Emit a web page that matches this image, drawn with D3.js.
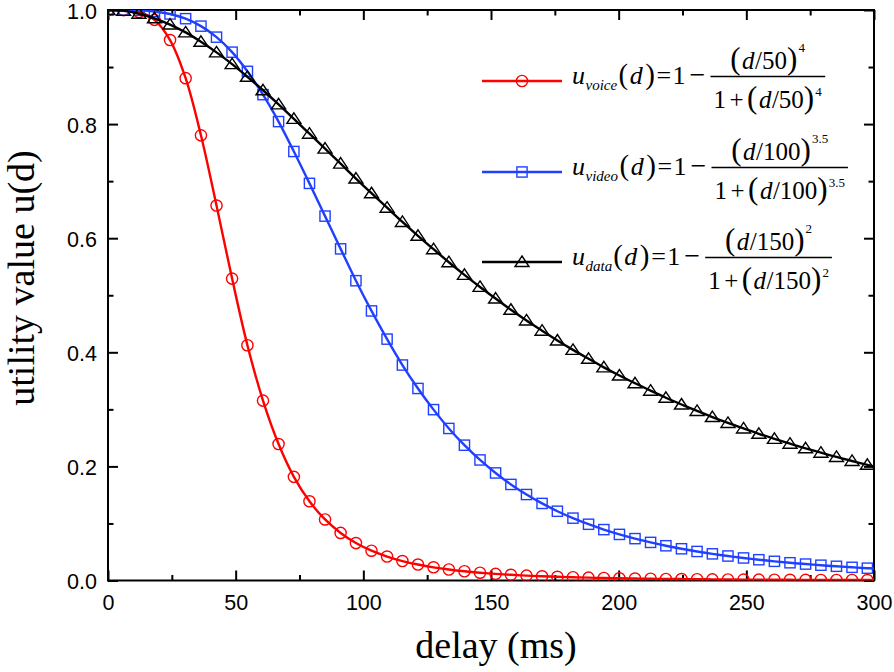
<!DOCTYPE html>
<html><head><meta charset="utf-8">
<script src="https://cdn.jsdelivr.net/npm/d3@7"></script>
<style>body{margin:0;background:#fff}</style>
</head><body><svg id="c" width="894" height="672"></svg>
<script>
// ---- data ----
const delays = [0,6.1,12.1,18.2,24.3,30.4,36.4,42.5,48.6,54.6,60.7,66.8,72.8,78.9,85.0,91.1,97.1,103.2,109.3,115.3,121.4,127.5,133.5,139.6,145.7,151.8,157.8,163.9,170.0,176.0,182.1,188.2,194.2,200.3,206.4,212.5,218.5,224.6,230.7,236.7,242.8,248.9,254.9,261.0,267.1,273.2,279.2,285.3,291.4,297.4];
const voice = [1.0000,0.9998,0.9965,0.9827,0.9473,0.8805,0.7803,0.6572,0.5292,0.4124,0.3153,0.2392,0.1817,0.1388,0.1070,0.0834,0.0656,0.0522,0.0420,0.0341,0.0280,0.0231,0.0193,0.0162,0.0137,0.0116,0.0100,0.0086,0.0074,0.0065,0.0057,0.0050,0.0044,0.0039,0.0034,0.0031,0.0027,0.0025,0.0022,0.0020,0.0018,0.0016,0.0015,0.0013,0.0012,0.0011,0.0010,0.0009,0.0009,0.0008];
const video = [1.0000,0.9999,0.9994,0.9974,0.9930,0.9848,0.9717,0.9524,0.9261,0.8924,0.8516,0.8044,0.7520,0.6961,0.6387,0.5813,0.5255,0.4725,0.4231,0.3777,0.3366,0.2995,0.2665,0.2372,0.2113,0.1885,0.1684,0.1507,0.1351,0.1214,0.1093,0.0986,0.0892,0.0808,0.0734,0.0668,0.0609,0.0556,0.0509,0.0467,0.0429,0.0395,0.0364,0.0336,0.0311,0.0288,0.0268,0.0249,0.0231,0.0216];
const dataSvc = [1.0000,0.9984,0.9935,0.9855,0.9745,0.9607,0.9443,0.9257,0.9051,0.8829,0.8593,0.8346,0.8092,0.7832,0.7570,0.7307,0.7046,0.6788,0.6534,0.6285,0.6042,0.5807,0.5579,0.5358,0.5146,0.4942,0.4746,0.4558,0.4379,0.4207,0.4042,0.3886,0.3736,0.3593,0.3457,0.3327,0.3203,0.3085,0.2972,0.2865,0.2762,0.2665,0.2572,0.2483,0.2398,0.2317,0.2240,0.2166,0.2095,0.2028];
const lineEndDelay = 300;
const lineEndValues = [0.0008, 0.0209, 0.2000];
const seriesNames = ["voice", "video", "data"];
const scaleDivisors = ["50", "100", "150"];
const exponents = ["4", "3.5", "2"];
const xTicks = [0, 50, 100, 150, 200, 250, 300];
const xMinor = [25, 75, 125, 175, 225, 275];
const yTicks = [0, 0.2, 0.4, 0.6, 0.8, 1.0];
const yMinor = [0.1, 0.3, 0.5, 0.7, 0.9];
const xTitle = "delay (ms)";
const yTitle = "utility value u(d)";

// ---- drawing ----
const colors = ["#ff0000", "#2040ff", "#000000"];
const seriesValues = [voice, video, dataSvc];
const svg = d3.select("#c");
const L = 108, R = 874, T = 10, B = 580.5;
const x = d3.scaleLinear([0, 300], [L, R]);
const y = d3.scaleLinear([0, 1], [B, T]);

svg.append("defs").append("clipPath").attr("id", "clip")
  .append("rect").attr("x", L).attr("y", T).attr("width", R - L).attr("height", B - T);

const tickFont = "Liberation Sans, Arial, sans-serif";
function styleAxis(g, labels) {
  g.select(".domain").remove();
  g.selectAll(".tick line").attr("stroke", "#000").attr("stroke-width", 2);
  g.selectAll(".tick text").attr("font-family", tickFont).attr("font-size", 21.5).attr("fill", "#000");
  if (!labels) g.selectAll(".tick text").remove();
}
// bottom
svg.append("g").attr("transform", `translate(0,${B})`)
  .call(d3.axisBottom(x).tickValues(xTicks).tickSize(-10).tickPadding(14).tickFormat(d3.format("d")))
  .call(g => styleAxis(g, true));
svg.append("g").attr("transform", `translate(0,${B})`)
  .call(d3.axisBottom(x).tickValues(xMinor).tickSize(-5.5)).call(g => styleAxis(g, false));
// top
svg.append("g").attr("transform", `translate(0,${T})`)
  .call(d3.axisTop(x).tickValues(xTicks).tickSize(-10)).call(g => styleAxis(g, false));
svg.append("g").attr("transform", `translate(0,${T})`)
  .call(d3.axisTop(x).tickValues(xMinor).tickSize(-5.5)).call(g => styleAxis(g, false));
// left
svg.append("g").attr("transform", `translate(${L},0)`)
  .call(d3.axisLeft(y).tickValues(yTicks).tickSize(-10).tickPadding(11).tickFormat(d3.format(".1f")))
  .call(g => styleAxis(g, true))
  .call(g => g.selectAll(".tick text").attr("dy", "0.38em"));
svg.append("g").attr("transform", `translate(${L},0)`)
  .call(d3.axisLeft(y).tickValues(yMinor).tickSize(-5.5)).call(g => styleAxis(g, false));
// right
svg.append("g").attr("transform", `translate(${R},0)`)
  .call(d3.axisRight(y).tickValues(yTicks).tickSize(-10)).call(g => styleAxis(g, false));
svg.append("g").attr("transform", `translate(${R},0)`)
  .call(d3.axisRight(y).tickValues(yMinor).tickSize(-5.5)).call(g => styleAxis(g, false));

// frame
svg.append("rect").attr("x", L).attr("y", T).attr("width", R - L).attr("height", B - T)
  .attr("fill", "none").attr("stroke", "#000").attr("stroke-width", 2);

// markers
const triPath = "M0,-6L7,4.5L-7,4.5Z";
function drawMarker(g, type, color) {
  if (type === 0) g.append("circle").attr("r", 5.6);
  else if (type === 1) g.append("rect").attr("x", -5.1).attr("y", -5.1).attr("width", 10.2).attr("height", 10.2);
  else g.append("path").attr("d", triPath);
  g.selectAll("*").attr("fill", "none").attr("stroke", color).attr("stroke-width", 1.4);
}

const plot = svg.append("g").attr("clip-path", "url(#clip)");
const line = d3.line().x(d => x(d[0])).y(d => y(d[1])).curve(d3.curveCatmullRom);
seriesValues.forEach((vals, i) => {
  const pts = delays.map((d, k) => [d, vals[k]]);
  pts.push([lineEndDelay, lineEndValues[i]]);
  plot.append("path").datum(pts).attr("d", line)
    .attr("fill", "none").attr("stroke", colors[i]).attr("stroke-width", 2.4);
  plot.append("g").selectAll("g").data(delays.map((d, k) => [d, vals[k]])).join("g")
    .attr("transform", d => `translate(${x(d[0])},${y(d[1])})`)
    .each(function () { drawMarker(d3.select(this), i, colors[i]); });
});

// axis titles
const serif = "Liberation Serif, Times New Roman, serif";
svg.append("text").attr("x", 496).attr("y", 658).attr("text-anchor", "middle")
  .attr("font-family", serif).attr("font-size", 38).text(xTitle);
svg.append("text").attr("transform", "translate(34,278) rotate(-90)").attr("text-anchor", "middle")
  .attr("font-family", serif).attr("font-size", 38).text(yTitle);

// legend
const baselines = [84, 175, 265];
const leg = svg.append("g").attr("font-family", serif).attr("fill", "#000");
seriesNames.forEach((name, i) => {
  const b = baselines[i];
  const ly = b - 3;
  leg.append("line").attr("x1", 482).attr("x2", 562).attr("y1", ly).attr("y2", ly)
    .attr("stroke", colors[i]).attr("stroke-width", 2.4);
  drawMarker(leg.append("g").attr("transform", `translate(522,${ly})`), i, colors[i]);

  const t = leg.append("text").attr("y", b).attr("font-size", 26);
  t.append("tspan").attr("x", 572).attr("font-style", "italic").text("u");
  t.append("tspan").attr("font-style", "italic").attr("font-size", 15).attr("dy", 6).attr("dx", 0.5).text(name);
  const bb = t.node().getBBox();
  const e = bb.x + bb.width;
  t.append("tspan").attr("x", e + 1).attr("dy", -6).attr("font-size", 29).text("(");
  t.append("tspan").attr("dx", 1.5).attr("font-style", "italic").text("d");
  t.append("tspan").attr("dx", 2.5).attr("font-size", 29).text(")");
  t.append("tspan").attr("x", e + 39).text("=");
  t.append("tspan").attr("x", e + 55).text("1");
  t.append("tspan").attr("x", e + 72).attr("font-size", 28).text("\u2212");
  const fx = e + 93;
  const barY = b - 7.5;

  function frac(sel, prefix) {
    if (prefix) {
      sel.append("tspan").text("1");
      sel.append("tspan").attr("dx", 3.5).text("+");
    }
    sel.append("tspan").attr("font-size", 31).attr("dx", prefix ? 3.5 : 0).text("(");
    sel.append("tspan").attr("font-style", "italic").attr("dx", 1.5).text("d");
    sel.append("tspan").attr("dx", 0.5).text("/" + scaleDivisors[i]);
    sel.append("tspan").attr("font-size", 31).text(")");
    sel.append("tspan").attr("font-size", 13).attr("dy", prefix ? -12 : -17).attr("dx", 1).text(exponents[i]);
  }
  const num = leg.append("text").attr("y", barY - 8).attr("font-size", 25);
  frac(num, false);
  const den = leg.append("text").attr("y", barY + 31).attr("font-size", 25);
  frac(den, true);
  const nw = num.node().getBBox().width, dw = den.node().getBBox().width;
  const W = Math.max(nw, dw) + 6;
  const cx = fx + W / 2;
  num.attr("x", cx - nw / 2);
  den.attr("x", cx - dw / 2);
  leg.append("line").attr("x1", fx).attr("x2", fx + W).attr("y1", barY).attr("y2", barY)
    .attr("stroke", "#000").attr("stroke-width", 1.3);
});
</script></body></html>
